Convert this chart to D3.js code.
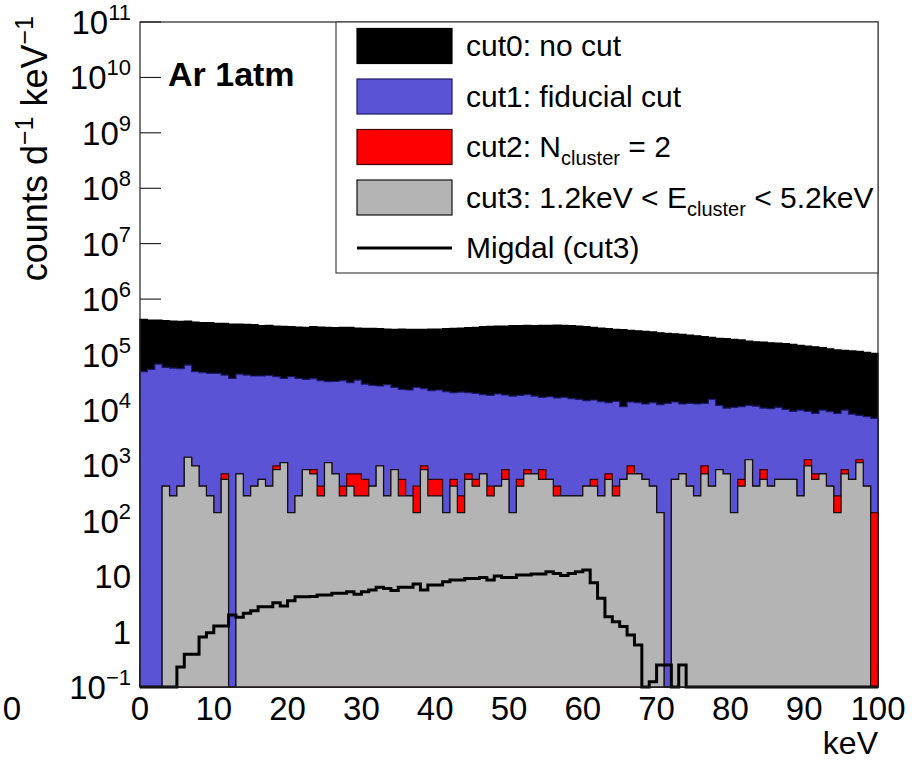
<!DOCTYPE html>
<html>
<head>
<meta charset="utf-8">
<script src="https://cdn.jsdelivr.net/npm/d3@7"></script>
<style>
  body { margin: 0; background: #fff; }
  svg { display: block; }
  text { font-family: "Liberation Sans", Arial, Helvetica, sans-serif; fill: #000; }
</style>
</head>
<body>
<svg id="chart" width="921" height="762"></svg>
<script>
// ---------------- data (1 keV bins, 0-100 keV) ----------------
const binWidth = 1; // keV
const xTickValues = [0, 10, 20, 30, 40, 50, 60, 70, 80, 90, 100];
const yDecades = [-1, 0, 1, 2, 3, 4, 5, 6, 7, 8, 9, 10, 11];

const cut0Counts = [
  431000, 419000, 419000, 407000, 402000, 396000, 402000, 386000, 375000, 375000,
  365000, 365000, 355000, 355000, 350000, 345000, 331000, 336000, 327000, 322000,
  318000, 313000, 309000, 318000, 313000, 309000, 305000, 309000, 309000, 301000,
  297000, 297000, 292000, 288000, 285000, 288000, 285000, 285000, 285000, 288000,
  288000, 292000, 297000, 301000, 305000, 309000, 318000, 322000, 327000, 327000,
  331000, 331000, 336000, 331000, 336000, 336000, 341000, 336000, 331000, 327000,
  318000, 309000, 301000, 292000, 285000, 281000, 273000, 266000, 262000, 255000,
  247000, 241000, 237000, 231000, 224000, 218000, 210000, 204000, 195000, 193000,
  188000, 183000, 175000, 170000, 168000, 163000, 161000, 157000, 152000, 146000,
  142000, 138000, 133000, 127000, 121000, 119000, 116000, 114000, 109000, 105000
];

const cut1Counts = [
  48900, 53900, 67300, 58600, 57000, 55400, 64500, 48900, 47000, 45700,
  45700, 42600, 37100, 44400, 42600, 40900, 40900, 42100, 39800, 37100,
  39800, 37100, 35600, 36600, 33700, 32300, 32700, 33700, 31000, 34600,
  29300, 27700, 27000, 28500, 25500, 23500, 22900, 25500, 24200, 22200,
  22900, 21300, 20500, 21000, 20500, 19900, 18800, 18300, 19400, 18600,
  17800, 18300, 18800, 17800, 16900, 17300, 16400, 16900, 16000, 15500,
  14700, 15100, 14100, 13500, 14300, 11400, 13900, 13500, 12800, 13500,
  12400, 13100, 13900, 12800, 13100, 12800, 13100, 15500, 12100, 10800,
  11100, 11400, 12100, 11700, 10800, 10500, 11100, 10200, 9420, 9950,
  9420, 8670, 9950, 9290, 8670, 9950, 8430, 7980, 7550, 7050
];

const cut2Counts = [
  0, 0, 0, 420, 280, 420, 1400, 980, 420, 280,
  140, 700, 0, 700, 280, 420, 560, 420, 980, 1120,
  140, 280, 840, 840, 420, 1120, 700, 420, 700, 700,
  560, 420, 980, 280, 840, 560, 280, 420, 980, 560,
  560, 140, 560, 280, 700, 560, 700, 420, 420, 840,
  140, 560, 840, 700, 840, 560, 420, 280, 280, 280,
  420, 560, 280, 700, 420, 560, 980, 700, 560, 420,
  140, 0, 560, 700, 420, 280, 980, 420, 840, 700,
  140, 560, 1260, 420, 840, 420, 560, 560, 560, 280,
  1260, 700, 700, 420, 280, 840, 560, 1260, 420, 140
];

const cut3Counts = [
  0, 0, 0, 420, 280, 420, 1400, 980, 420, 280,
  140, 560, 0, 700, 280, 420, 560, 420, 840, 1120,
  140, 280, 840, 700, 280, 1120, 700, 280, 420, 280,
  280, 420, 980, 280, 840, 280, 280, 140, 840, 280,
  280, 140, 420, 140, 560, 420, 700, 280, 420, 560,
  140, 420, 700, 700, 560, 560, 280, 280, 280, 280,
  420, 420, 280, 560, 280, 560, 700, 700, 560, 420,
  140, 0, 560, 700, 420, 280, 700, 420, 840, 700,
  140, 420, 1260, 420, 560, 420, 560, 560, 560, 280,
  980, 560, 700, 420, 140, 700, 560, 1120, 420, 0
];

const migdalCounts = [
  0, 0, 0, 0, 0, 0.23, 0.39, 0.39, 0.8, 0.95,
  1.26, 1.26, 2.0, 1.81, 2.14, 2.38, 2.81, 2.81, 3.32, 2.89,
  3.61, 4.26, 4.26, 4.3, 4.57, 4.57, 4.9, 4.9, 5.25, 4.7,
  5.25, 5.6, 6.3, 6.0, 5.5, 6.3, 6.3, 7.2, 5.6, 6.9,
  6.9, 7.9, 8.5, 8.5, 9.1, 9.1, 9.5, 8.5, 10.1, 9.5,
  9.5, 10.5, 10.5, 10.9, 10.9, 12.0, 11.2, 10.3, 11.2, 12.0,
  12.9, 7.6, 4.0, 1.86, 1.51, 1.23, 0.87, 0.57, 0, 0.125,
  0.25, 0.25, 0, 0.25, 0, 0, 0, 0, 0, 0,
  0, 0, 0, 0, 0, 0, 0, 0, 0, 0,
  0, 0, 0, 0, 0, 0, 0, 0, 0, 0
];

const legendLabels = [
  { key: "cut0", parts: [["cut0: no cut", "n"]] },
  { key: "cut1", parts: [["cut1: fiducial cut", "n"]] },
  { key: "cut2", parts: [["cut2: N", "n"], ["cluster", "sub"], [" = 2", "n"]] },
  { key: "cut3", parts: [["cut3: 1.2keV < E", "n"], ["cluster", "sub"], [" < 5.2keV", "n"]] },
  { key: "migdal", parts: [["Migdal (cut3)", "n"]] }
];

// ---------------- styles ----------------
const style = {
  cut0: { fill: "#000000", stroke: "#000000" },
  cut1: { fill: "#5a53d6", stroke: "#1c1a66" },
  cut2: { fill: "#ff0000", stroke: "#3a0000" },
  cut3: { fill: "#b4b4b4", stroke: "#111111" },
  migdal: { stroke: "#000000", width: 3 }
};

// ---------------- scales ----------------
const svg = d3.select("#chart");
const plot = { left: 140, right: 878, top: 22, bottom: 687 };
const x = d3.scaleLinear().domain([0, 100]).range([plot.left, plot.right]);
const y = d3.scaleLog().domain([0.1, 1e11]).range([plot.bottom, plot.top]);
const yMin = y.domain()[0];
const yv = v => y(Math.max(v, yMin));

// ---------------- axes ticks (drawn first, histograms cover them) ----------------
const gAxis = svg.append("g");
y.ticks().forEach(t => {
  const lg = Math.log10(t);
  const major = Math.abs(lg - Math.round(lg)) < 1e-9;
  gAxis.append("line")
    .attr("x1", plot.left).attr("x2", plot.left + (major ? 21 : 11))
    .attr("y1", y(t)).attr("y2", y(t))
    .attr("stroke", "#000").attr("stroke-width", 1);
});
x.ticks(50).forEach(t => {
  const major = t % 10 === 0;
  gAxis.append("line")
    .attr("x1", x(t)).attr("x2", x(t))
    .attr("y1", plot.bottom).attr("y2", plot.bottom - (major ? 20 : 10))
    .attr("stroke", "#000").attr("stroke-width", 1);
});

// ---------------- histograms ----------------
function histPoints(vals) {
  const pts = vals.map((v, i) => [i * binWidth, v]);
  pts.push([vals.length * binWidth, vals[vals.length - 1]]);
  return pts;
}
const areaGen = d3.area().curve(d3.curveStepAfter)
  .x(d => x(d[0])).y0(y(yMin)).y1(d => yv(d[1]));
const lineGen = d3.line().curve(d3.curveStepAfter)
  .x(d => x(d[0])).y(d => yv(d[1]));

const gHist = svg.append("g");
[["cut0", cut0Counts], ["cut1", cut1Counts], ["cut2", cut2Counts], ["cut3", cut3Counts]].forEach(([k, vals]) => {
  gHist.append("path")
    .attr("d", areaGen(histPoints(vals)))
    .attr("fill", style[k].fill)
    .attr("stroke", style[k].stroke)
    .attr("stroke-width", 1.2)
    .attr("stroke-linejoin", "miter");
});
gHist.append("path")
  .attr("d", lineGen(histPoints(migdalCounts)))
  .attr("fill", "none")
  .attr("stroke", style.migdal.stroke)
  .attr("stroke-width", style.migdal.width)
  .attr("stroke-linejoin", "miter");

// ---------------- frame ----------------
svg.append("rect")
  .attr("x", plot.left).attr("y", plot.top)
  .attr("width", plot.right - plot.left).attr("height", plot.bottom - plot.top)
  .attr("fill", "none").attr("stroke", "#222").attr("stroke-width", 1.2);

// ---------------- tick labels ----------------
const gLab = svg.append("g");
xTickValues.forEach(t => {
  gLab.append("text")
    .attr("x", x(t)).attr("y", 720)
    .attr("text-anchor", "middle")
    .attr("font-size", 33)
    .text(String(t));
});
yDecades.forEach(k => {
  const t = gLab.append("text")
    .attr("x", 131).attr("y", y(Math.pow(10, k)) + 12)
    .attr("text-anchor", "end")
    .attr("font-size", 33);
  if (k === 0) { t.text("1"); return; }
  if (k === 1) { t.text("10"); return; }
  t.append("tspan").text("10");
  t.append("tspan").attr("font-size", 22).attr("dy", -14)
    .text(k < 0 ? "\u2212" + Math.abs(k) : String(k));
});
// fragment of the neighbouring panel's x label at the far left
gLab.append("text").attr("x", 21).attr("y", 720).attr("text-anchor", "end")
  .attr("font-size", 33).text("0");

// axis titles
gLab.append("text")
  .attr("x", plot.right).attr("y", 754)
  .attr("text-anchor", "end").attr("font-size", 32)
  .text("keV");
const yTitle = gLab.append("text")
  .attr("transform", "translate(47,16) rotate(-90)")
  .attr("text-anchor", "end").attr("font-size", 36);
yTitle.append("tspan").text("counts d");
yTitle.append("tspan").attr("font-size", 25).attr("dy", -14).text("\u22121");
yTitle.append("tspan").attr("dy", 14).text(" keV");
yTitle.append("tspan").attr("font-size", 25).attr("dy", -14).text("\u22121");

// panel label
gLab.append("text")
  .attr("x", 168).attr("y", 86)
  .attr("font-size", 34).attr("font-weight", "bold")
  .text("Ar 1atm");

// ---------------- legend ----------------
const leg = svg.append("g");
leg.append("rect")
  .attr("x", 336).attr("y", plot.top)
  .attr("width", plot.right - 336).attr("height", 273 - plot.top)
  .attr("fill", "#fff").attr("stroke", "#444").attr("stroke-width", 1.2);
legendLabels.forEach((e, i) => {
  const cy = 46 + i * 50.5;
  if (e.key === "migdal") {
    leg.append("line")
      .attr("x1", 357).attr("x2", 452).attr("y1", cy).attr("y2", cy)
      .attr("stroke", "#000").attr("stroke-width", 3);
  } else {
    leg.append("rect")
      .attr("x", 357).attr("y", cy - 17.5).attr("width", 95).attr("height", 35)
      .attr("fill", style[e.key].fill).attr("stroke", style[e.key].stroke).attr("stroke-width", 1.2);
  }
  const t = leg.append("text").attr("x", 466).attr("y", cy + 10).attr("font-size", 30);
  let shifted = false;
  e.parts.forEach(([s, kind]) => {
    const sp = t.append("tspan").text(s);
    if (kind === "sub") { sp.attr("font-size", 20).attr("dy", 8); shifted = true; }
    else if (shifted) { sp.attr("dy", -8); shifted = false; }
  });
});
</script>
</body>
</html>
